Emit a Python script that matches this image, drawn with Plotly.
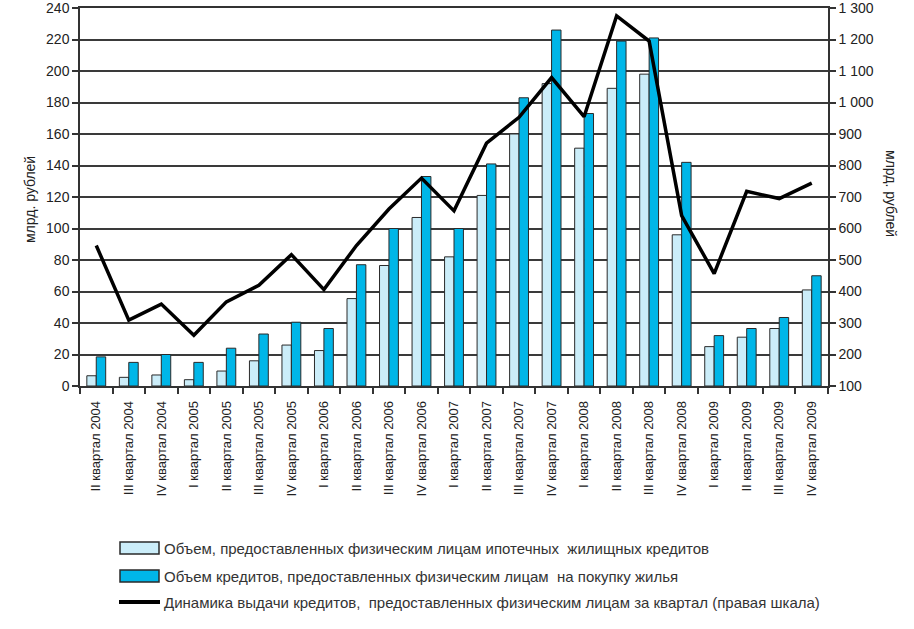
import plotly.graph_objects as go

categories = [
    "II квартал 2004", "III квартал 2004", "IV квартал 2004",
    "I квартал 2005", "II квартал 2005", "III квартал 2005", "IV квартал 2005",
    "I квартал 2006", "II квартал 2006", "III квартал 2006", "IV квартал 2006",
    "I квартал 2007", "II квартал 2007", "III квартал 2007", "IV квартал 2007",
    "I квартал 2008", "II квартал 2008", "III квартал 2008", "IV квартал 2008",
    "I квартал 2009", "II квартал 2009", "III квартал 2009", "IV квартал 2009",
]
mortgage = [6.5, 5.5, 7, 4, 9.5, 16, 26, 22.5, 55.5, 76.5, 107, 82,
            121, 160, 192, 151, 189, 198, 96, 25, 31, 36.5, 61]
housing = [18.5, 15, 20, 15, 24, 33, 40.5, 36.5, 77, 100, 133, 100,
           141, 183, 226, 173, 219, 221, 142, 32, 36.5, 43.5, 70]
total_dynamics = [546, 309, 360, 261, 367, 420, 517, 406, 546, 662, 760, 656,
                  871, 953, 1079, 955, 1275, 1195, 641, 457, 718, 695, 744]

left_ticks = list(range(0, 241, 20))
right_ticks = list(range(100, 1301, 100))
right_ticktext = ["{:,}".format(v).replace(",", " ") for v in right_ticks]

legend_names = [
    "Объем, предоставленных физическим лицам ипотечных  жилищных кредитов",
    "Объем кредитов, предоставленных физическим лицам  на покупку жилья",
    "Динамика выдачи кредитов,  предоставленных физическим лицам за квартал (правая шкала)",
]
axis_title = "млрд. рублей"

LIGHT = "#CBEDF9"
BLUE = "#00B6E8"
EDGE = "#2a2a2a"
FONT = "Liberation Sans, Arial, sans-serif"
TEXT = "#222222"

fig = go.Figure()
fig.add_trace(go.Bar(x=categories, y=mortgage, name=legend_names[0],
                     marker=dict(color=LIGHT, line=dict(color=EDGE, width=1))))
fig.add_trace(go.Bar(x=categories, y=housing, name=legend_names[1],
                     marker=dict(color=BLUE, line=dict(color=EDGE, width=1))))
fig.add_trace(go.Scatter(x=categories, y=total_dynamics, name=legend_names[2],
                         yaxis="y2", mode="lines",
                         line=dict(color="#000000", width=3.5)))

W, H = 914, 629
L, R, T, B = 80, 828, 8, 386


def px_x(px):
    return (px - L) / (R - L)


def px_y(py):
    return (B - py) / (B - T)


shapes = []
annotations = []
rows = [548, 576, 602]
for i, cy in enumerate(rows):
    if i < 2:
        shapes.append(dict(type="rect", xref="paper", yref="paper",
                           x0=px_x(120), x1=px_x(159), y0=px_y(cy + 6), y1=px_y(cy - 6),
                           fillcolor=[LIGHT, BLUE][i], line=dict(color=EDGE, width=1.5)))
    else:
        shapes.append(dict(type="line", xref="paper", yref="paper",
                           x0=px_x(119), x1=px_x(160), y0=px_y(cy), y1=px_y(cy),
                           line=dict(color="#000000", width=4)))
    annotations.append(dict(xref="paper", yref="paper", x=px_x(162), y=px_y(cy),
                            xanchor="left", yanchor="middle", showarrow=False,
                            text=legend_names[i],
                            font=dict(family=FONT, size=15, color="#333333")))

annotations.append(dict(xref="paper", yref="paper", x=px_x(30), y=px_y(200),
                        xanchor="center", yanchor="middle", showarrow=False,
                        text=axis_title, textangle=-90,
                        font=dict(family=FONT, size=14, color=TEXT)))
annotations.append(dict(xref="paper", yref="paper", x=px_x(891), y=px_y(193),
                        xanchor="center", yanchor="middle", showarrow=False,
                        text=axis_title, textangle=90,
                        font=dict(family=FONT, size=14, color=TEXT)))

fig.update_layout(
    width=W, height=H,
    margin=dict(l=L, r=W - R, t=T, b=H - B, autoexpand=False),
    paper_bgcolor="white", plot_bgcolor="white",
    barmode="group", bargap=0.42, bargroupgap=0.0,
    showlegend=False,
    font=dict(family=FONT, size=14, color=TEXT),
    xaxis=dict(type="category", tickangle=-90, tickson="boundaries",
               ticks="outside", ticklen=6, tickcolor="#333", tickwidth=1.5,
               ticklabelstandoff=8,
               showline=True, linecolor="#333", linewidth=1.5, mirror=True,
               showgrid=False, tickfont=dict(family=FONT, size=13, color=TEXT)),
    yaxis=dict(range=[0, 240], tickvals=left_ticks, ticks="outside", ticklen=6,
               tickcolor="#333", tickwidth=1.5, ticklabeloverflow="allow",
               showline=True, linecolor="#333", linewidth=1.5,
               showgrid=True, gridcolor="#3a3a3a", gridwidth=1.5,
               zeroline=False, tickfont=dict(family=FONT, size=14, color=TEXT)),
    yaxis2=dict(range=[100, 1300], tickvals=right_ticks, ticktext=right_ticktext,
                overlaying="y", side="right", ticks="outside", ticklen=6,
                tickcolor="#333", tickwidth=1.5, ticklabeloverflow="allow",
                showline=True, linecolor="#333", linewidth=1.5,
                showgrid=False, zeroline=False,
                tickfont=dict(family=FONT, size=14, color=TEXT)),
    shapes=shapes, annotations=annotations,
)

fig.write_html("out.html", config={"displayModeBar": False},
               post_script="document.body.style.margin='0';document.body.style.padding='0';")
